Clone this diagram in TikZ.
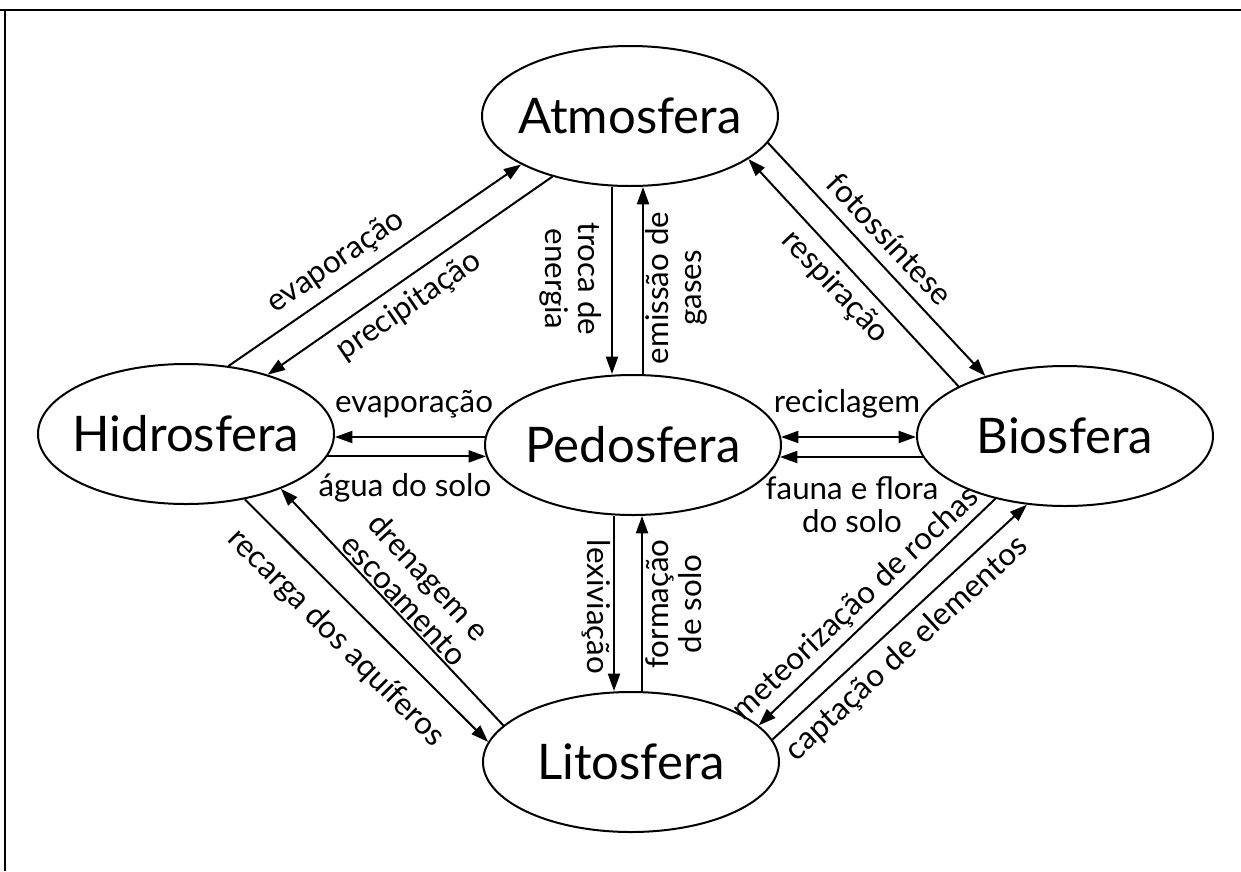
\documentclass[tikz,border=0pt]{standalone}
\usepackage{fontspec}
\setmainfont{Lato}
\usetikzlibrary{arrows.meta,calc,shapes.geometric}
\begin{document}
\begin{tikzpicture}[x=0.75pt,y=-0.75pt,
  sphere/.style={draw,ellipse,line width=1.5pt,minimum width=222pt,minimum height=105pt,inner sep=0pt,font=\fontsize{36.8}{40}\selectfont},
  flow/.style={line width=1.5pt,-{Triangle[length=13pt,width=9pt]}},
  both/.style={line width=1.5pt,{Triangle[length=13pt,width=9pt]}-{Triangle[length=13pt,width=9pt]}},
  lbl/.style={font=\fontsize{23.5}{25}\selectfont,inner sep=0pt,align=center}]
\useasboundingbox (0,0) rectangle (1241,871);
\draw[line width=1.5pt] (0,9.5) -- (1241,9.5);
\draw[line width=1.5pt] (5,9.5) -- (5,871);

\node[sphere] (atm) at (630,116) {\makebox[0pt]{Atmosfera}};
\node[sphere] (hid) at (186,434) {\makebox[0pt]{Hidrosfera}};
\node[sphere] (ped) at (633,445) {\makebox[0pt]{Pedosfera}};
\node[sphere] (bio) at (1065,436) {\makebox[0pt]{Biosfera}};
\node[sphere] (lit) at (631,762) {\makebox[0pt]{Litosfera}};

% atmosfera - pedosfera
\draw[flow] ($(atm.south)+(-18,0)$) coordinate (t1) -- (t1 |- ped.north);
\draw[flow] ($(ped.north)+(10,0)$) coordinate (t2) -- (t2 |- atm.south);
% pedosfera - litosfera
\draw[flow] ($(ped.south)+(-19,0)$) coordinate (t3) -- (t3 |- lit.north);
\draw[flow] ($(lit.north)+(11,0)$) coordinate (t4) -- (t4 |- ped.south);
% hidrosfera - pedosfera
\draw[flow] ($(ped.west)+(1,-8)$) coordinate (h1) -- (h1 -| hid.east);
\draw[flow] (hid.-9) coordinate (h2) -- ($(h2 -| ped.west)+(2,0)$);
% pedosfera - biosfera
\draw[both] ($(ped.east)+(-1,-8)$) coordinate (h3) -- (h3 -| bio.west);
\draw[flow] ($(bio.west)+(7,21)$) coordinate (h4) -- ($(h4 -| ped.east)+(-2,0)$);
% diagonals
\draw[flow] (hid.58.3) -- (atm.204.9);
\draw[flow] (atm.218.9) -- (hid.36.4);
\draw[flow] (atm.-11.7) -- (bio.143.8);
\draw[flow] (bio.155.4) -- (atm.-20.2);
\draw[flow] (hid.-48.6) -- (lit.172.4);
\draw[flow] (lit.164.7) -- (hid.-30.3);
\draw[flow] (bio.222.5) -- (lit.16.3);
\draw[flow] (lit.9.7) -- (bio.241.6);

% labels
\node[lbl,rotate=34.5] (levapa) at (336,262) {evaporação};
\node[lbl,rotate=34.5] (lprec) at (409,306) {precipitação};
\node[lbl,rotate=-90] (ltroca) at (571,279) {troca de\\energia};
\node[lbl,rotate=90] (lemis) at (676,288) {emissão de\\gases};
\node[lbl,rotate=-47] (lfoto) at (890,239) {fotossíntese};
\node[lbl,rotate=-47] (lresp) at (835,287) {respiração};
\node[lbl] (levapb) at (414,404) {evaporação};
\node[lbl] (lagua) at (405,488) {água do solo};
\node[lbl] (lrec) at (847,404) {reciclagem};
\node[lbl] (lfauna) at (852,505) {fauna e flora\\do solo};
\node[lbl,rotate=-90] (llex) at (596,607) {lexiviação};
\node[lbl,rotate=90] (lform) at (674,604) {formação\\de solo};
\node[lbl,rotate=-45] (lrecarga) at (336,638) {recarga dos aquíferos};
\node[lbl,rotate=-47] (ldren) at (417,588) {drenagem e\\escoamento};
\node[lbl,rotate=43] (lmet) at (856,604) {meteorização de rochas};
\node[lbl,rotate=42.5] (lcapt) at (907,649) {captação de elementos};
\end{tikzpicture}
\end{document}
